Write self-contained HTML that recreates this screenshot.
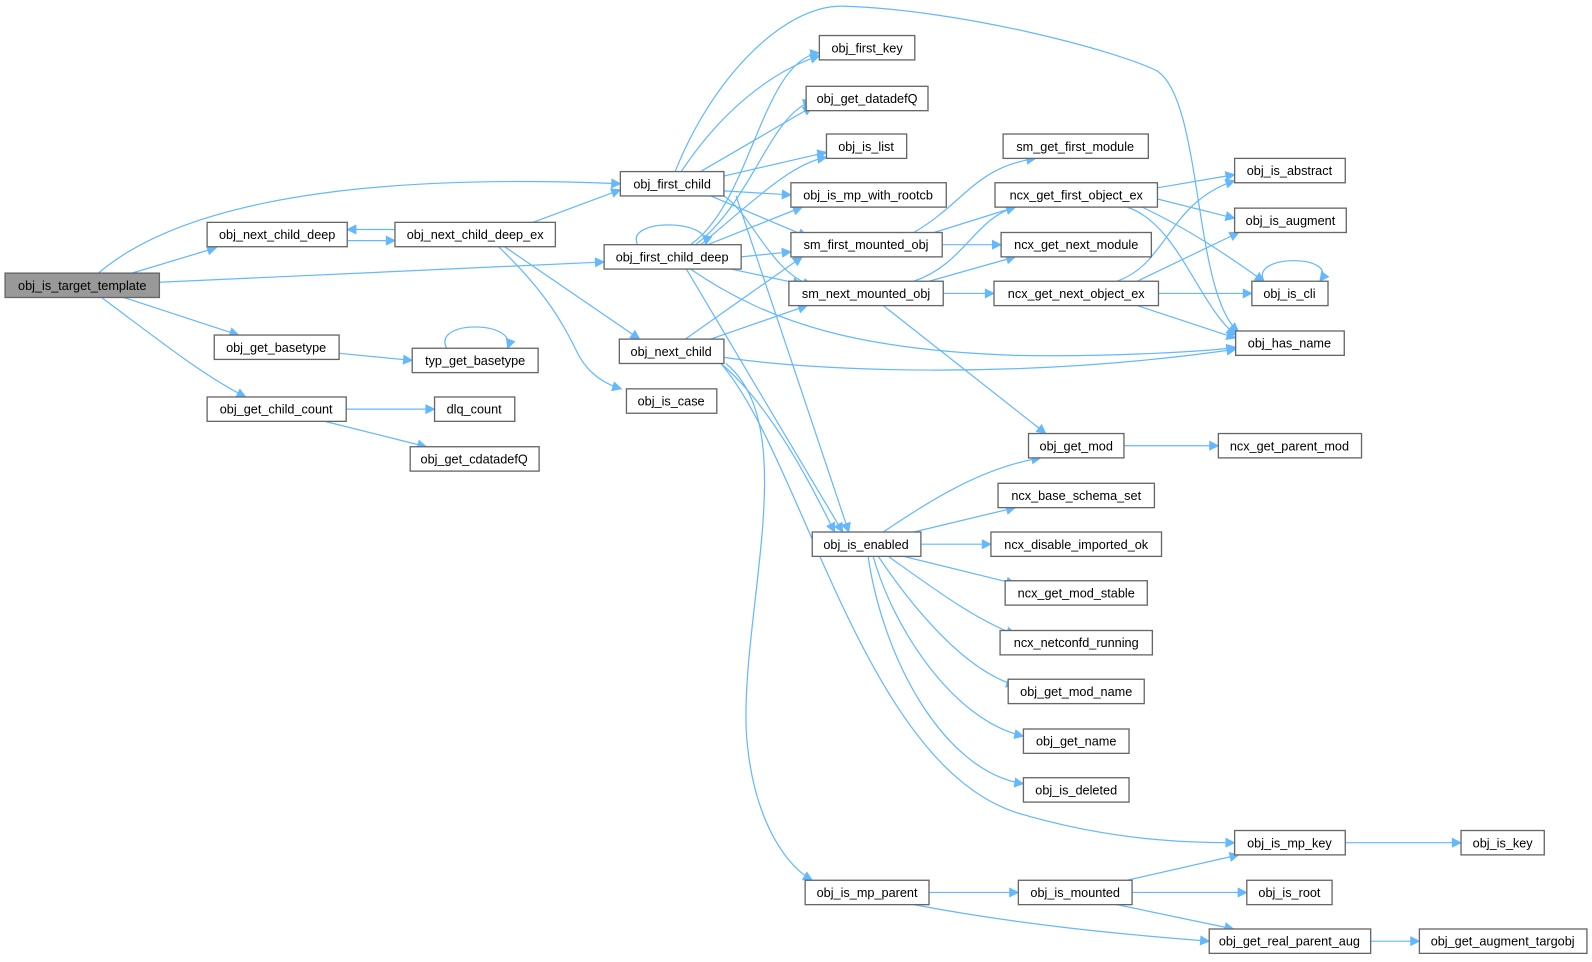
<!DOCTYPE html>
<html><head><meta charset="utf-8"><style>
body{margin:0;background:#fff;}
svg{display:block;}
.n rect{fill:#fff;stroke:#666;stroke-width:1.3;}
.n text{font-family:"Liberation Sans",sans-serif;font-size:12.5px;fill:#000;text-anchor:middle;}
.e path{fill:none;stroke:#63b8ff;stroke-width:1.2;}
</style></head><body>
<svg width="1592" height="962" viewBox="0 0 1568 947.5" preserveAspectRatio="none" xmlns="http://www.w3.org/2000/svg">
<defs><marker id="a" viewBox="0 0 10 10" refX="9" refY="5" markerWidth="13" markerHeight="10" markerUnits="userSpaceOnUse" orient="auto"><path d="M0,0L10,5L0,10z" fill="#63b8ff"/></marker></defs>
<g class="e">
<path d="M97,269 C160,215 300,168 611,181" marker-end="url(#a)"/>
<path d="M130,269 L213,244" marker-end="url(#a)"/>
<path d="M157,278 L595,258" marker-end="url(#a)"/>
<path d="M122,293 L235,330" marker-end="url(#a)"/>
<path d="M100,293 C150,330 200,370 242,391" marker-end="url(#a)"/>
<path d="M342,237 L389,237" marker-end="url(#a)"/>
<path d="M389,226 L342,226" marker-end="url(#a)"/>
<path d="M525,219 L611,187" marker-end="url(#a)"/>
<path d="M497,243 L630,334" marker-end="url(#a)"/>
<path d="M491,243 C540,290 555,320 570,350 C580,368 595,378 612,383" marker-end="url(#a)"/>
<path d="M334,348 L406,355" marker-end="url(#a)"/>
<path d="M440,343 C425,315 510,315 500,343" marker-end="url(#a)"/>
<path d="M341,403 L428,403" marker-end="url(#a)"/>
<path d="M320,415 L420,440" marker-end="url(#a)"/>
<path d="M671,169 C710,110 760,70 807,55" marker-end="url(#a)"/>
<path d="M690,169 L800,105" marker-end="url(#a)"/>
<path d="M706,175 L814,150" marker-end="url(#a)"/>
<path d="M713,188 L779,192" marker-end="url(#a)"/>
<path d="M700,193 L795,233" marker-end="url(#a)"/>
<path d="M713,193 C740,210 760,270 800,281" marker-end="url(#a)"/>
<path d="M725,193 L836,524" marker-end="url(#a)"/>
<path d="M665,169 C700,80 770,5 830,6 C950,10 1100,50 1140,70 C1185,100 1175,290 1220,327" marker-end="url(#a)"/>
<path d="M628,241 C615,215 700,215 695,241" marker-end="url(#a)"/>
<path d="M680,241 C740,200 750,60 807,52" marker-end="url(#a)"/>
<path d="M685,241 C740,200 760,110 800,100" marker-end="url(#a)"/>
<path d="M690,241 C740,200 780,160 814,155" marker-end="url(#a)"/>
<path d="M697,241 L790,204" marker-end="url(#a)"/>
<path d="M730,253 L779,248" marker-end="url(#a)"/>
<path d="M720,265 L790,280" marker-end="url(#a)"/>
<path d="M676,265 L830,524" marker-end="url(#a)"/>
<path d="M680,265 C760,320 850,345 1000,350 C1100,352 1200,345 1217,342" marker-end="url(#a)"/>
<path d="M675,334 L790,253" marker-end="url(#a)"/>
<path d="M700,334 L795,301" marker-end="url(#a)"/>
<path d="M713,352 C800,365 1000,375 1217,344" marker-end="url(#a)"/>
<path d="M710,358 C760,400 800,480 822,524" marker-end="url(#a)"/>
<path d="M710,358 C790,450 850,750 1000,800 C1100,830 1180,830 1216,830" marker-end="url(#a)"/>
<path d="M715,358 C790,420 730,600 735,720 C740,800 770,850 800,867" marker-end="url(#a)"/>
<path d="M900,229 C950,200 960,165 1020,156" marker-end="url(#a)"/>
<path d="M920,229 L1000,204" marker-end="url(#a)"/>
<path d="M928,241 L986,241" marker-end="url(#a)"/>
<path d="M900,277 C950,260 960,215 1000,204" marker-end="url(#a)"/>
<path d="M915,277 L1000,253" marker-end="url(#a)"/>
<path d="M929,289 L979,289" marker-end="url(#a)"/>
<path d="M870,301 L1030,427" marker-end="url(#a)"/>
<path d="M1140,185 L1216,172" marker-end="url(#a)"/>
<path d="M1140,196 L1216,215" marker-end="url(#a)"/>
<path d="M1125,204 C1180,230 1220,260 1245,277" marker-end="url(#a)"/>
<path d="M1110,204 C1160,220 1180,300 1217,330" marker-end="url(#a)"/>
<path d="M1100,277 C1150,260 1150,200 1216,178" marker-end="url(#a)"/>
<path d="M1120,277 L1220,229" marker-end="url(#a)"/>
<path d="M1141,289 L1233,289" marker-end="url(#a)"/>
<path d="M1120,301 L1217,333" marker-end="url(#a)"/>
<path d="M1245,277 C1230,250 1320,250 1300,277" marker-end="url(#a)"/>
<path d="M870,524 C920,490 970,460 1025,451" marker-end="url(#a)"/>
<path d="M900,524 L1000,500" marker-end="url(#a)"/>
<path d="M907,536 L976,536" marker-end="url(#a)"/>
<path d="M890,548 L1000,575" marker-end="url(#a)"/>
<path d="M875,548 C920,580 960,610 1000,625" marker-end="url(#a)"/>
<path d="M865,548 C900,600 950,660 1000,675" marker-end="url(#a)"/>
<path d="M860,548 C880,620 940,710 1008,725" marker-end="url(#a)"/>
<path d="M855,548 C870,650 930,760 1008,772" marker-end="url(#a)"/>
<path d="M1107,439 L1200,439" marker-end="url(#a)"/>
<path d="M1325,830 L1439,830" marker-end="url(#a)"/>
<path d="M915,879 L1003,879" marker-end="url(#a)"/>
<path d="M900,891 C1000,910 1100,920 1191,927" marker-end="url(#a)"/>
<path d="M1110,867 L1220,842" marker-end="url(#a)"/>
<path d="M1115,879 L1228,879" marker-end="url(#a)"/>
<path d="M1100,891 L1215,915" marker-end="url(#a)"/>
<path d="M1350,927 L1398,927" marker-end="url(#a)"/>
</g>
<g class="n">
<rect x="5" y="269" width="152" height="24" style="fill:#999"/><text x="81" y="285.5">obj_is_target_template</text>
<rect x="204" y="219" width="138" height="24"/><text x="273" y="235.5">obj_next_child_deep</text>
<rect x="389" y="219" width="158" height="24"/><text x="468" y="235.5">obj_next_child_deep_ex</text>
<rect x="611" y="169" width="102" height="24"/><text x="662" y="185.5">obj_first_child</text>
<rect x="595" y="241" width="135" height="24"/><text x="662" y="257.5">obj_first_child_deep</text>
<rect x="610" y="334" width="103" height="24"/><text x="661" y="350.5">obj_next_child</text>
<rect x="617" y="383" width="89" height="24"/><text x="661" y="399.5">obj_is_case</text>
<rect x="211" y="330" width="123" height="24"/><text x="272" y="346.5">obj_get_basetype</text>
<rect x="406" y="343" width="124" height="24"/><text x="468" y="359.5">typ_get_basetype</text>
<rect x="204" y="391" width="137" height="24"/><text x="272" y="407.5">obj_get_child_count</text>
<rect x="428" y="391" width="79" height="24"/><text x="467" y="407.5">dlq_count</text>
<rect x="404" y="440" width="127" height="24"/><text x="467" y="456.5">obj_get_cdatadefQ</text>
<rect x="807" y="35" width="94" height="24"/><text x="854" y="51.5">obj_first_key</text>
<rect x="794" y="85" width="120" height="24"/><text x="854" y="101.5">obj_get_datadefQ</text>
<rect x="814" y="132" width="79" height="24"/><text x="853" y="148.5">obj_is_list</text>
<rect x="779" y="180" width="153" height="24"/><text x="855" y="196.5">obj_is_mp_with_rootcb</text>
<rect x="779" y="229" width="149" height="24"/><text x="853" y="245.5">sm_first_mounted_obj</text>
<rect x="777" y="277" width="152" height="24"/><text x="853" y="293.5">sm_next_mounted_obj</text>
<rect x="800" y="524" width="107" height="24"/><text x="853" y="540.5">obj_is_enabled</text>
<rect x="793" y="867" width="122" height="24"/><text x="854" y="883.5">obj_is_mp_parent</text>
<rect x="988" y="132" width="143" height="24"/><text x="1059" y="148.5">sm_get_first_module</text>
<rect x="980" y="180" width="160" height="24"/><text x="1060" y="196.5">ncx_get_first_object_ex</text>
<rect x="986" y="229" width="148" height="24"/><text x="1060" y="245.5">ncx_get_next_module</text>
<rect x="979" y="277" width="162" height="24"/><text x="1060" y="293.5">ncx_get_next_object_ex</text>
<rect x="1013" y="427" width="94" height="24"/><text x="1060" y="443.5">obj_get_mod</text>
<rect x="983" y="476" width="154" height="24"/><text x="1060" y="492.5">ncx_base_schema_set</text>
<rect x="976" y="524" width="168" height="24"/><text x="1060" y="540.5">ncx_disable_imported_ok</text>
<rect x="990" y="572" width="140" height="24"/><text x="1060" y="588.5">ncx_get_mod_stable</text>
<rect x="985" y="621" width="150" height="24"/><text x="1060" y="637.5">ncx_netconfd_running</text>
<rect x="993" y="669" width="134" height="24"/><text x="1060" y="685.5">obj_get_mod_name</text>
<rect x="1008" y="718" width="104" height="24"/><text x="1060" y="734.5">obj_get_name</text>
<rect x="1008" y="766" width="104" height="24"/><text x="1060" y="782.5">obj_is_deleted</text>
<rect x="1003" y="867" width="112" height="24"/><text x="1059" y="883.5">obj_is_mounted</text>
<rect x="1216" y="156" width="109" height="24"/><text x="1270" y="172.5">obj_is_abstract</text>
<rect x="1216" y="205" width="110" height="24"/><text x="1271" y="221.5">obj_is_augment</text>
<rect x="1233" y="277" width="75" height="24"/><text x="1270" y="293.5">obj_is_cli</text>
<rect x="1217" y="326" width="107" height="24"/><text x="1270" y="342.5">obj_has_name</text>
<rect x="1200" y="427" width="141" height="24"/><text x="1270" y="443.5">ncx_get_parent_mod</text>
<rect x="1216" y="818" width="109" height="24"/><text x="1270" y="834.5">obj_is_mp_key</text>
<rect x="1439" y="818" width="82" height="24"/><text x="1480" y="834.5">obj_is_key</text>
<rect x="1228" y="867" width="84" height="24"/><text x="1270" y="883.5">obj_is_root</text>
<rect x="1191" y="915" width="159" height="24"/><text x="1270" y="931.5">obj_get_real_parent_aug</text>
<rect x="1398" y="915" width="165" height="24"/><text x="1480" y="931.5">obj_get_augment_targobj</text>
</g>
</svg>
</body></html>
